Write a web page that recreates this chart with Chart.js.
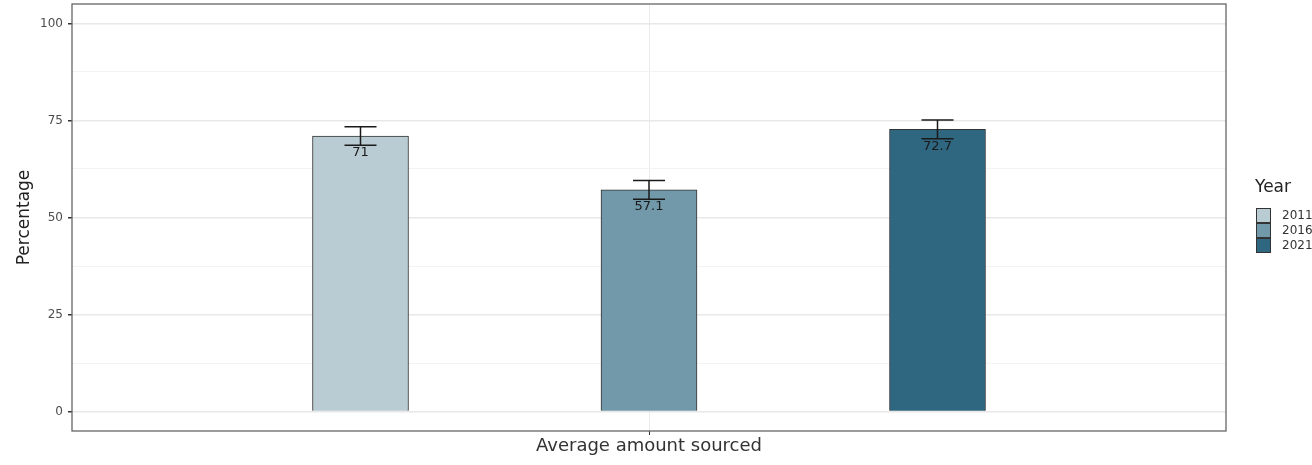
<!DOCTYPE html>
<html>
<head>
<meta charset="utf-8">
<script src="https://cdn.jsdelivr.net/npm/chart.js@4.4.1/dist/chart.umd.min.js"></script>
<style>
  html, body { margin: 0; padding: 0; background: #ffffff; }
  #wrap { width: 1312px; height: 465px; position: relative; }
</style>
</head>
<body>
<div id="wrap"><canvas id="c" width="1312" height="465"></canvas></div>
<script>
// ---- data ----
const categoryLabel = "Average amount sourced";
const years = ["2011", "2016", "2021"];
const percentValues = [71, 57.1, 72.7];
const errorLower = [68.6, 54.7, 70.3];
const errorUpper = [73.4, 59.5, 75.1];
const yTickValues = [0, 12.5, 25, 37.5, 50, 62.5, 75, 87.5, 100];
const yTickLabels = ["0", "", "25", "", "50", "", "75", "", "100"];
const legendTitle = "Year";
const yTitle = "Percentage";

// ---- styles ----
const barColors = ["#b9cbd3", "#7199a9", "#2f6680"];
const FONT = "'DejaVu Sans', sans-serif";

const datasets = years.map((yr, i) => ({
  label: yr,
  data: [{ x: i - 1, y: percentValues[i] }],
  backgroundColor: barColors[i],
  borderColor: "#333",
  borderWidth: 1,
  barThickness: 96,
  grouped: false
}));

const errorBarPlugin = {
  id: "errorBars",
  afterDatasetsDraw(chart) {
    const ctx = chart.ctx;
    const xs = chart.scales.x, ys = chart.scales.y;
    ctx.save();
    // value labels
    ctx.fillStyle = "#1a1a1a";
    ctx.font = "13px " + FONT;
    ctx.textAlign = "center";
    ctx.textBaseline = "middle";
    years.forEach((yr, i) => {
      const px = xs.getPixelForValue(i - 1);
      const py = ys.getPixelForValue(percentValues[i]);
      ctx.fillText(String(percentValues[i]), px, py + 17);
    });
    // error bars
    ctx.strokeStyle = "#1a1a1a";
    ctx.lineWidth = 1.5;
    years.forEach((yr, i) => {
      const px = xs.getPixelForValue(i - 1);
      const lo = ys.getPixelForValue(errorLower[i]);
      const hi = ys.getPixelForValue(errorUpper[i]);
      ctx.beginPath();
      ctx.moveTo(px, lo); ctx.lineTo(px, hi);
      ctx.moveTo(px - 16, lo); ctx.lineTo(px + 16, lo);
      ctx.moveTo(px - 16, hi); ctx.lineTo(px + 16, hi);
      ctx.stroke();
    });
    ctx.restore();
  },
  afterDraw(chart) {
    const ctx = chart.ctx;
    const a = chart.chartArea;
    ctx.save();
    // panel border
    ctx.strokeStyle = "#666";
    ctx.lineWidth = 1.3;
    ctx.strokeRect(a.left, a.top, a.right - a.left, a.bottom - a.top);
    // legend
    const lx = 1256, ly = 208, box = 15;
    ctx.fillStyle = "#222";
    ctx.font = "17px " + FONT;
    ctx.textAlign = "left";
    ctx.textBaseline = "middle";
    ctx.fillText(legendTitle, 1255, 188);
    ctx.font = "12px " + FONT;
    years.forEach((yr, i) => {
      const y = ly + i * box;
      ctx.fillStyle = barColors[i];
      ctx.fillRect(lx, y, box, box);
      ctx.strokeStyle = "#333";
      ctx.lineWidth = 1;
      ctx.strokeRect(lx + 0.5, y + 0.5, box - 1, box - 1);
      ctx.fillStyle = "#333";
      ctx.fillText(yr, 1282, y + box / 2);
    });
    ctx.restore();
  }
};

new Chart(document.getElementById("c"), {
  type: "bar",
  data: { datasets },
  options: {
    responsive: false,
    animation: false,
    layout: { padding: { left: 0, right: 86, top: 4, bottom: 0 } },
    plugins: { legend: { display: false }, tooltip: { enabled: false } },
    scales: {
      x: {
        type: "linear",
        min: -2, max: 2,
        offset: false,
        afterBuildTicks(scale) { scale.ticks = [{ value: 0 }]; },
        afterFit(scale) { scale.height = 34; scale.paddingLeft = 0; scale.paddingRight = 0; },
        ticks: {
          callback: () => categoryLabel,
          color: "#333",
          font: { family: FONT, size: 18 },
          padding: 1,
          maxRotation: 0
        },
        grid: { offset: false, color: "#ebebeb", lineWidth: 1, tickLength: 4, tickColor: "#333" },
        border: { display: false }
      },
      y: {
        min: -5, max: 105,
        afterBuildTicks(scale) { scale.ticks = yTickValues.map(v => ({ value: v })); },
        afterFit(scale) { scale.width = 72; scale.paddingTop = 0; scale.paddingBottom = 0; },
        ticks: {
          callback: (v, idx) => yTickLabels[idx],
          color: "#4d4d4d",
          font: { family: FONT, size: 12 },
          padding: 5
        },
        grid: {
          color: ctx => (ctx.tick && ctx.tick.value % 25 === 0) ? "#e8e8e8" : "#f3f3f3",
          lineWidth: ctx => (ctx.tick && ctx.tick.value % 25 === 0) ? 1.5 : 1,
          tickLength: 4,
          tickColor: ctx => (ctx.tick && ctx.tick.value % 25 === 0) ? "#333" : "rgba(0,0,0,0)"
        },
        border: { display: false },
        title: {
          display: true,
          text: yTitle,
          color: "#222",
          font: { family: FONT, size: 17 },
          padding: { top: 14, bottom: 0 }
        }
      }
    }
  },
  plugins: [errorBarPlugin]
});
</script>
</body>
</html>
